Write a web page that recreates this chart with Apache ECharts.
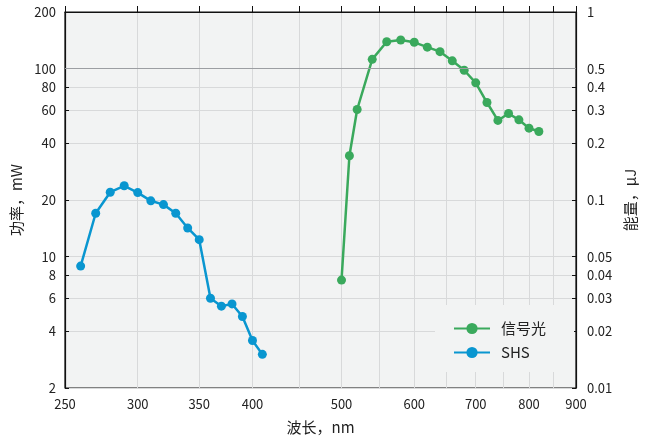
<!DOCTYPE html>
<html>
<head>
<meta charset="utf-8">
<script src="https://cdn.jsdelivr.net/npm/echarts@6/dist/echarts.min.js"></script>
<style>html,body{margin:0;padding:0;background:#fff;}#c{width:656px;height:441px;}</style>
</head>
<body>
<div id="c"></div>
<script>
// Data (wavelength in nm, power in mW)
var shsWavelength = [260, 270, 280, 290, 300, 310, 320, 330, 340, 350, 360, 370, 380, 390, 400, 410];
var shsPower = [8.9, 17.0, 22.0, 23.8, 21.9, 19.8, 18.9, 17.0, 14.2, 12.3, 6.0, 5.45, 5.6, 4.8, 3.58, 3.02];
var signalWavelength = [500, 510, 520, 540, 560, 580, 600, 620, 640, 660, 680, 700, 720, 740, 760, 780, 800, 820];
var signalPower = [7.5, 34.4, 60.6, 112, 139, 142, 138, 130, 123, 110, 98, 84, 66, 53, 57.7, 53.4, 48.2, 46.3];

var xTickValues = [250, 300, 350, 400, 450, 500, 550, 600, 650, 700, 750, 800, 850, 900];
var xLabelValues = [250, 300, 350, 400, 500, 600, 700, 800, 900];
var leftTickValues = [2, 4, 6, 8, 10, 20, 40, 60, 80, 100, 200];
var rightTickValues = [0.01, 0.02, 0.03, 0.04, 0.05, 0.1, 0.2, 0.3, 0.4, 0.5, 1];

var seriesNames = ['信号光', 'SHS'];
var xName = '波长，nm';
var leftName = '功率，mW';
var rightName = '能量，μJ';

var L = Math.log10;
function pairs(xs, ys) { return xs.map(function (x, i) { return [L(x), L(ys[i])]; }); }
var FONT = '"Noto Sans CJK SC", "Noto Sans", sans-serif';
var GREEN = '#3aa95c', BLUE = '#0996d0';

var chart = echarts.init(document.getElementById('c'), null, { renderer: 'canvas' });
chart.setOption({
  animation: false,
  textStyle: { fontFamily: FONT },
  grid: { left: 65, right: 80, top: 12, bottom: 53, show: true, backgroundColor: '#f2f3f3', borderColor: '#111', borderWidth: 1.2 },
  legend: {
    orient: 'vertical', left: 435, top: 305,
    padding: [16, 28, 12, 18],
    backgroundColor: '#f2f3f3',
    itemWidth: 36, itemHeight: 14, itemGap: 9,
    textStyle: { fontFamily: FONT, fontSize: 15, color: '#222', padding: [0, 0, 0, 6] },
    data: seriesNames
  },
  xAxis: {
    type: 'value', min: L(250), max: L(900),
    name: xName, nameLocation: 'middle', nameGap: 32,
    nameTextStyle: { fontFamily: FONT, fontSize: 15, color: '#222' },
    axisLine: { lineStyle: { color: '#111', width: 1.2 } },
    axisTick: { inside: true, length: 6, lineStyle: { color: '#111' }, customValues: xTickValues.map(L) },
    axisLabel: { customValues: xLabelValues.map(L), margin: 10, fontSize: 13, color: '#222', fontFamily: FONT,
      formatter: function (v) { return String(Math.round(Math.pow(10, v))); } },
    splitLine: { show: true, lineStyle: { color: '#d8d9da', width: 1 } }
  },
  yAxis: [{
    type: 'value', min: L(2), max: L(200), position: 'left',
    name: leftName, nameLocation: 'middle', nameGap: 37, nameRotate: 90,
    nameTextStyle: { fontFamily: FONT, fontSize: 15, color: '#222' },
    axisLine: { show: true, lineStyle: { color: '#111', width: 1.2 } },
    axisTick: { show: true, inside: true, length: 4, lineStyle: { color: '#111' }, customValues: leftTickValues.map(L) },
    axisLabel: { customValues: leftTickValues.map(L), margin: 9, fontSize: 13, color: '#222', fontFamily: FONT,
      formatter: function (v) { return String(Math.round(Math.pow(10, v))); } },
    splitLine: { show: true, lineStyle: { color: '#d8d9da', width: 1 } }
  }, {
    type: 'value', min: L(0.01), max: L(1), position: 'right',
    name: rightName, nameLocation: 'middle', nameGap: 46, nameRotate: 90,
    nameTextStyle: { fontFamily: FONT, fontSize: 15, color: '#222' },
    axisLine: { show: true, lineStyle: { color: '#111', width: 1.2 } },
    axisTick: { show: true, inside: true, length: 4, lineStyle: { color: '#111' }, customValues: rightTickValues.map(L) },
    axisLabel: { customValues: rightTickValues.map(L), margin: 11, fontSize: 13, color: '#222', fontFamily: FONT,
      formatter: function (v) { return String(Number(Math.pow(10, v).toPrecision(3))); } },
    splitLine: { show: false }
  }],
  series: [{
    name: seriesNames[0], type: 'line', yAxisIndex: 0,
    data: pairs(signalWavelength, signalPower),
    symbol: 'circle', symbolSize: 9, showSymbol: true,
    itemStyle: { color: GREEN }, lineStyle: { color: GREEN, width: 2.5 },
    markLine: { silent: true, symbol: 'none', label: { show: false },
      lineStyle: { color: '#9c9ea2', width: 1, type: 'solid' },
      data: [{ yAxis: L(100) }] },
    z: 3
  }, {
    name: seriesNames[1], type: 'line', yAxisIndex: 0,
    data: pairs(shsWavelength, shsPower),
    symbol: 'circle', symbolSize: 9, showSymbol: true,
    itemStyle: { color: BLUE }, lineStyle: { color: BLUE, width: 2.5 },
    z: 3
  }]
});
</script>
</body>
</html>
